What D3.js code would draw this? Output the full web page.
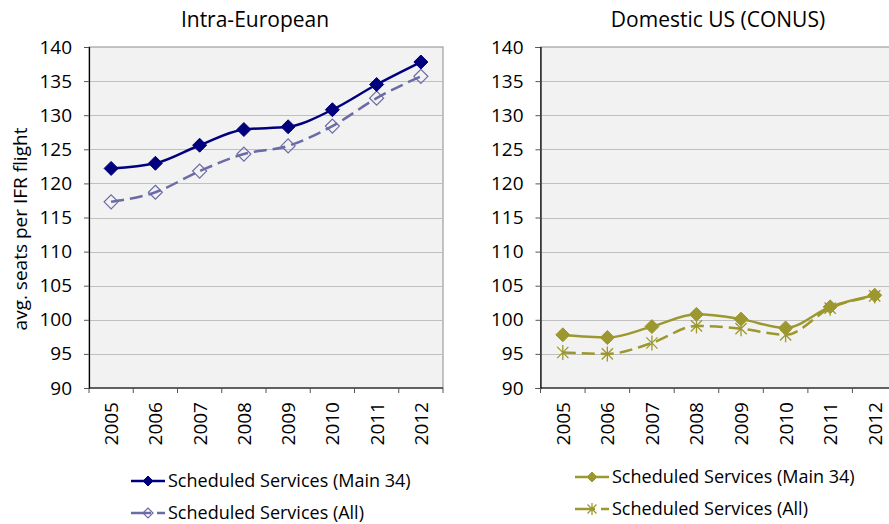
<!DOCTYPE html>
<html lang="en">
<head>
<meta charset="utf-8" />
<title>avg. seats per IFR flight</title>
<style>
html,body{margin:0;background:#fff}
svg{display:block;font-family:"Open Sans",sans-serif}
</style>
<script src="https://cdn.jsdelivr.net/npm/d3@7/dist/d3.min.js"></script>
</head>
<body>
<svg id="chart" width="889" height="524"></svg>
<script>
/* ---------------- data ---------------- */
const years = ["2005","2006","2007","2008","2009","2010","2011","2012"];
const yTicks = [90,95,100,105,110,115,120,125,130,135,140];

const euMain = [122.2, 122.95, 125.6, 127.9, 128.3, 130.8, 134.5, 137.8];
const euAll  = [117.3, 118.7, 121.8, 124.3, 125.5, 128.4, 132.5, 135.7];
const usMain = [97.8, 97.4, 99.0, 100.8, 100.1, 98.8, 101.9, 103.6];
const usAll  = [95.2, 95.0, 96.6, 99.1, 98.7, 97.8, 101.7, 103.5];

const seriesNames = ["Scheduled Services (Main 34)", "Scheduled Services (All)"];

/* ---------------- layout ---------------- */
const svg = d3.select("#chart");
const plotTop = 47, plotBottom = 388;

const panels = [
  {title: "Intra-European", x0: 89, x1: 443, cx: 255,
   main: euMain, all: euAll, c1: "#00007f", c2: "#6b6ba6", m2: "diamond",
   legX: 131, legY: 481, legGap: 32},
  {title: "Domestic US (CONUS)", x0: 540.5, x1: 897, cx: 718,
   main: usMain, all: usAll, c1: "#9c982f", c2: "#9c982f", m2: "star",
   legX: 575, legY: 477, legGap: 32}
];

const y = d3.scaleLinear().domain([90, 140]).range([plotBottom, plotTop]);

function diamond(g, cx, cy, r, color, filled) {
  g.append("path")
    .attr("d", `M${cx},${cy - r}L${cx + r},${cy}L${cx},${cy + r}L${cx - r},${cy}Z`)
    .attr("fill", filled ? color : "none")
    .attr("stroke", color)
    .attr("stroke-width", filled ? 1 : 1.2);
}
function star(g, cx, cy, r, color) {
  const d = r * 0.75;
  g.append("path")
    .attr("d", `M${cx - d},${cy - d}L${cx + d},${cy + d}M${cx - d},${cy + d}L${cx + d},${cy - d}M${cx},${cy - r}L${cx},${cy + r}`)
    .attr("fill", "none")
    .attr("stroke", color)
    .attr("stroke-width", 1.3);
}

panels.forEach(p => {
  const x = d3.scaleBand().domain(years).range([p.x0, p.x1]);
  const cxOf = d => x(d) + x.bandwidth() / 2;
  const g = svg.append("g");

  // plot area
  g.append("rect")
    .attr("x", p.x0).attr("y", plotTop)
    .attr("width", p.x1 - p.x0).attr("height", plotBottom - plotTop)
    .attr("fill", "#f2f2f2").attr("stroke", "#8c8c8c").attr("stroke-width", 1);

  // gridlines
  g.selectAll("line.grid").data(yTicks.filter(v => v > 90 && v < 140)).enter()
    .append("line").attr("class", "grid")
    .attr("x1", p.x0).attr("x2", p.x1)
    .attr("y1", d => Math.round(y(d)) + 0.5).attr("y2", d => Math.round(y(d)) + 0.5)
    .attr("stroke", "#bfbfbf").attr("stroke-width", 1);

  // y axis
  const ya = g.append("g").attr("transform", `translate(${p.x0},0)`)
    .call(d3.axisLeft(y).tickValues(yTicks).tickSize(5).tickPadding(12));
  ya.select(".domain").attr("stroke", "#000").attr("stroke-width", 1.2);
  ya.selectAll(".tick line").attr("stroke", "#555");
  ya.selectAll("text").attr("font-size", 19).attr("fill", "#000")
    .attr("font-family", "'Open Sans',sans-serif");

  // x axis: boundary ticks + rotated labels
  const xa = g.append("g").attr("transform", `translate(0,${plotBottom})`);
  xa.append("line").attr("x1", p.x0).attr("x2", p.x1)
    .attr("stroke", "#000").attr("stroke-width", 1.2);
  xa.selectAll("line.tk").data(years.map(d => x(d)).concat([p.x1])).enter()
    .append("line").attr("class", "tk")
    .attr("x1", d => d).attr("x2", d => d).attr("y1", 0).attr("y2", 5)
    .attr("stroke", "#555");
  xa.selectAll("text").data(years).enter().append("text")
    .attr("transform", d => `translate(${cxOf(d) + 7},14) rotate(-90)`)
    .attr("text-anchor", "end")
    .attr("font-size", 19).attr("fill", "#000")
    .text(d => d);

  // title
  g.append("text").attr("x", p.cx).attr("y", 27).attr("text-anchor", "middle")
    .attr("font-size", 21).attr("fill", "#000").text(p.title);

  // lines
  const line = d3.line().x((v, i) => cxOf(years[i])).y(v => y(v)).curve(d3.curveMonotoneX);
  g.append("path").datum(p.all).attr("d", line)
    .attr("fill", "none").attr("stroke", p.c2).attr("stroke-width", 2.5)
    .attr("stroke-dasharray", "13,6");
  g.append("path").datum(p.main).attr("d", line)
    .attr("fill", "none").attr("stroke", p.c1).attr("stroke-width", 2.5);

  // markers
  p.all.forEach((v, i) => {
    if (p.m2 === "diamond") diamond(g, cxOf(years[i]), y(v), 7, p.c2, false);
    else star(g, cxOf(years[i]), y(v), 7.5, p.c2);
  });
  p.main.forEach((v, i) => diamond(g, cxOf(years[i]), y(v), 7, p.c1, true));

  // legend
  const lg = g.append("g");
  [0, 1].forEach(k => {
    const ly = p.legY + k * p.legGap;
    const col = k === 0 ? p.c1 : p.c2;
    lg.append("line").attr("x1", p.legX).attr("x2", p.legX + 34)
      .attr("y1", ly).attr("y2", ly)
      .attr("stroke", col).attr("stroke-width", 2.5)
      .attr("stroke-dasharray", k === 0 ? null : "20,6,8");
    if (k === 0) diamond(lg, p.legX + 17, ly, 5, col, true);
    else if (p.m2 === "diamond") diamond(lg, p.legX + 17, ly, 5, col, false);
    else star(lg, p.legX + 17, ly, 6, col);
    lg.append("text").attr("x", p.legX + 37).attr("y", ly + 6)
      .attr("font-size", 18).attr("fill", "#000").text(seriesNames[k]);
  });
});

// y axis title
svg.append("text")
  .attr("transform", "translate(27,229) rotate(-90)")
  .attr("text-anchor", "middle").attr("font-size", 19).attr("fill", "#000")
  .text("avg. seats per IFR flight");
</script>
</body>
</html>
